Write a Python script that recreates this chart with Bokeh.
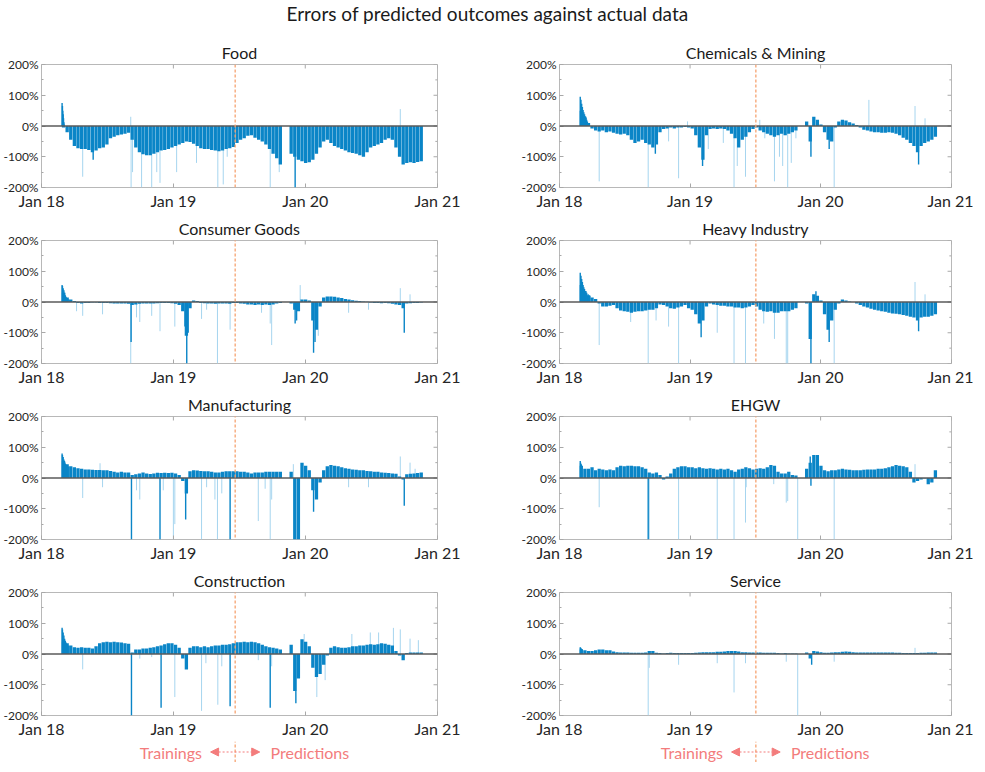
from bokeh.plotting import figure
from bokeh.layouts import gridplot, column
from bokeh.models import Range1d, FixedTicker, LinearAxis, Span, Arrow, NormalHead, Label
from bokeh.embed import file_html
from bokeh.resources import INLINE

# ---------------- data (days counted from 1 Jan 2018) ----------------
BIN_DAY = list(range(61, 1056, 10))          # centre of each 10-day bin
X_TICKS = [0, 365, 730, 1096]
X_LABELS = ["Jan 18", "Jan 19", "Jan 20", "Jan 21"]
Y_TICKS = [-200, -100, 0, 100, 200]
Y_MINOR = [-150, -50, 50, 150]
Y_LABELS = ["-200%", "-100%", "0%", "100%", "200%"]
SPLIT_DAY = [536, 549]                       # training / prediction boundary (left, right column)

N = None
food_err = [-5, -20, -45, -65, -72, -75, -75, -78, -85, -80,
            -72, -70, -60, -40, -35, -30, -28, -25, -22, -45,
            -70, -85, -92, -95, -95, -90, -85, -80, -78, -75,
            -70, -65, -60, -55, -50, -52, -58, -65, -72, -75,
            -75, -78, -80, -82, -80, -75, -72, -68, -55, -45,
            -40, -32, -30, -38, -45, -50, -60, -75, -90, -105,
            -125, N, N, -90, -100, -110, -115, -120, -118, -110,
            -90, -70, -50, -45, -55, -65, -70, -75, -80, -85,
            -88, -90, -95, -100, -85, -70, -65, -60, -55, -45,
            -40, -45, -70, -100, -125, -120, -118, -120, -117, -115]
food_dark_day = [57, 58, 59, 60, 61, 62, 63, 143, 702]
food_dark_val = [75, 65, 50, 38, 25, 12, 5, -110, -200]
food_light_day = [114, 247, 248, 252, 277, 305, 319, 328, 374, 429, 488, 503, 514, 633, 658, 993]
food_light_val = [-165, 30, -200, -150, -200, -200, -150, -185, -150, -120, -200, -190, -100, -200, -150, 55]

chem_err = [50, 30, 10, -8, -15, -18, -15, -20, -18, -22,
            -25, -28, -25, -30, -45, -55, -50, -45, -55, -60,
            -70, -60, -20, -10, -8, -5, -8, -5, -5, -3,
            -5, -8, -30, -70, -110, -30, -10, -8, -10, -8,
            -10, -15, -25, -40, -70, -45, -35, -20, -10, -5,
            -15, -20, -25, -30, -35, -30, -25, -30, -25, -20,
            -15, N, N, 15, -50, 30, 20, 5, -20, -45,
            -50, -5, 15, 20, 18, 12, 8, 3, -5, -12,
            -15, -18, -20, -20, -22, -22, -20, -22, -25, -30,
            -38, -45, -55, -65, -85, -65, -55, -50, -45, -35]
chem_dark_day = [58, 60, 62, 64, 66, 68, 70, 72, 74, 76, 78, 80, 268, 400, 703, 754, 1004]
chem_dark_val = [95, 85, 72, 62, 52, 45, 38, 32, 26, 20, 15, 10, -90, -130, -100, -75, -125]
chem_light_day = [111, 248, 305, 333, 358, 416, 458, 488, 497, 520, 560, 574, 601, 615, 624,
                  638, 648, 661, 768, 865, 994, 1022]
chem_light_val = [-180, -200, -50, -170, 15, -75, -55, -200, -130, -165, 20, -40, -180, -100, -130,
                  -200, -120, -40, -200, 85, 65, 25]

cons_err = [30, 15, 8, 3, -3, -5, -3, -3, -2, -2,
            -3, -3, -3, -4, -5, -5, -5, -5, -6, -10,
            -8, -6, -5, -5, -5, -5, -4, -3, -3, -3,
            -4, -6, -10, -30, -110, -20, 5, 3, -3, -4,
            -5, -5, -6, -5, -5, -5, -6, -3, -3, -5,
            -6, -8, -8, -10, -8, -10, -8, -10, -8, -5,
            -3, N, N, -5, -25, -30, 8, 8, 5, -60,
            -90, -15, 15, 18, 18, 17, 15, 13, 10, 8,
            6, 4, 3, 2, 1, -2, -3, -3, -4, -3,
            -4, -6, -8, -10, -20, -5, -4, -3, -3, -2]
cons_dark_day = [57, 58, 60, 62, 64, 66, 68, 70, 73, 76, 248, 397, 402, 406, 702, 706, 753, 757, 1004]
cons_dark_val = [55, 52, 45, 38, 30, 22, 17, 13, 10, 7, -130, -80, -200, -100, -70, -60, -165, -130, -100]
cons_light_day = [97, 114, 169, 247, 263, 272, 305, 328, 369, 443, 457, 487, 522, 609, 633, 637,
                  716, 766, 850, 905, 993, 1020]
cons_light_val = [-30, -45, -40, -200, -50, -65, -45, -95, -80, -55, -25, -200, -90, -35, -70, -140,
                  55, -110, -35, -25, 45, 25]

heavy_err = [55, 35, 22, 15, 10, -5, -15, -15, -12, -10,
             -20, -28, -30, -32, -35, -32, -30, -30, -28, -25,
             -25, -20, -8, -10, -15, -20, -22, -18, -15, -10,
             -20, -25, -40, -70, -60, -15, -5, -8, -10, -12,
             -12, -15, -15, -18, -18, -20, -18, -15, -10, -15,
             -25, -30, -32, -30, -35, -35, -30, -30, -30, -25,
             -20, N, N, -5, -120, 25, 20, 5, -40, -90,
             -60, -25, -5, 8, 5, 2, 0, -5, -10, -15,
             -18, -22, -25, -28, -30, -32, -35, -37, -38, -40,
             -42, -45, -48, -50, -60, -50, -48, -48, -45, -40]
heavy_dark_day = [58, 60, 62, 64, 66, 68, 70, 73, 76, 80, 85, 396, 703, 717, 754, 1004]
heavy_dark_val = [95, 85, 75, 65, 55, 48, 42, 36, 30, 25, 20, -115, -200, 35, -130, -95]
heavy_light_day = [111, 199, 248, 270, 305, 333, 441, 488, 520, 571, 601, 634, 638, 768, 994, 1022]
heavy_light_val = [-140, -65, -200, -60, -80, -200, -100, -200, -200, -70, -120, -200, -200, -200, 65, 25]

manu_err = [55, 45, 38, 35, 32, 30, 28, 28, 27, 26,
            26, 25, 25, 23, 20, 18, 20, 18, 18, 10,
            12, 15, 18, 15, 13, 15, 17, 16, 17, 16,
            17, 15, 10, -10, -50, 22, 25, 24, 23, 22,
            22, 20, 18, 18, 20, 22, 22, 22, 22, 20,
            20, 18, 15, 18, 18, 18, 20, 20, 20, 20,
            20, N, N, 20, -200, -200, 50, 40, 25, -40,
            -70, -15, 25, 38, 42, 40, 38, 35, 32, 30,
            28, 27, 25, 25, 23, 22, 20, 20, 18, 17,
            16, 15, 14, 5, -5, 12, 14, 15, 16, 18]
manu_dark_day = [57, 58, 60, 62, 64, 66, 68, 71, 74, 249, 328, 399, 522, 753, 1004]
manu_dark_val = [80, 75, 68, 60, 52, 47, 43, 40, 37, -200, -200, -135, -200, -110, -90]
manu_light_day = [114, 162, 169, 263, 272, 337, 365, 369, 443, 457, 480, 487, 499, 600, 619, 633,
                  637, 697, 850, 905, 993, 1020, 1034]
manu_light_val = [-65, 48, -30, -40, -70, -40, -200, -150, -200, -30, -70, -200, -50, -140, -35, -200,
                  -70, 45, -30, -30, 70, 50, 30]

ehgw_err = [40, 30, 30, 35, 25, 30, 28, 25, 28, 25,
            35, 40, 38, 40, 40, 38, 38, 35, 30, 18,
            15, 18, 10, -5, 5, 15, 30, 35, 38, 38,
            35, 35, 32, 35, 32, 30, 32, 30, 28, 30,
            28, 30, 25, 20, 28, 30, 35, 32, 28, 30,
            32, 30, 35, 42, 40, 20, 15, 15, 20, 10,
            8, N, N, 30, 50, 75, 75, 40, 25, 22,
            25, 25, 28, 30, 28, 27, 25, 25, 25, 27,
            28, 28, 28, 30, 30, 32, 35, 38, 42, 40,
            38, 35, 20, -15, -10, -5, -2, -20, -15, 25]
ehgw_dark_day = [58, 59, 61, 248, 701, 703]
ehgw_dark_val = [55, 50, 45, -200, 70, -25]
ehgw_light_day = [111, 251, 333, 441, 488, 520, 522, 599, 634, 638, 666, 768, 994]
ehgw_light_val = [-95, -200, -200, -200, -200, -145, -30, -20, -80, -75, -200, -200, 45]

cstr_err = [40, 35, 28, 22, 20, 22, 20, 20, 18, 25,
            35, 38, 40, 38, 40, 38, 37, 35, 33, 5,
            15, 15, 18, 18, 20, 22, 25, 28, 32, 35,
            35, 30, 20, -15, -50, 20, 25, 25, 22, 25,
            22, 25, 28, 28, 30, 30, 32, 35, 38, 38,
            40, 38, 40, 38, 35, 30, 25, 22, 20, 18,
            15, N, N, 30, -120, -80, 48, 40, 25, -45,
            -75, -65, -35, -5, 20, 25, 22, 20, 20, 22,
            25, 25, 28, 28, 30, 32, 30, 32, 35, 33,
            30, 28, 10, -5, -20, 3, 5, 5, 5, 5]
cstr_dark_day = [57, 58, 60, 62, 64, 66, 68, 71, 74, 249, 331, 522, 633, 704]
cstr_dark_val = [85, 80, 70, 60, 50, 43, 37, 32, 28, -200, -175, -170, -175, -160]
cstr_light_day = [114, 272, 305, 369, 443, 455, 488, 499, 600, 637, 727, 762, 785, 859, 910, 933,
                  974, 993, 1020, 1043]
cstr_light_val = [-50, -15, -10, -140, -185, -30, -165, -40, -20, -40, 65, -140, -85, 65, 70, 70,
                  85, 80, 50, 45]

serv_err = [15, 12, 10, 10, 12, 15, 15, 12, 12, 8,
            6, 5, 5, 5, 4, 4, 4, 4, 5, 10,
            10, 4, 3, 2, 3, 4, 3, 3, 3, 3,
            3, 3, 4, 5, 6, 6, 6, 6, 7, 7,
            8, 10, 10, 10, 8, 6, 6, 5, 5, 5,
            5, 4, 4, 4, 4, 3, 2, 3, 2, 2,
            2, N, N, 5, -15, 10, 8, 6, 4, 4,
            5, 6, 6, 7, 8, 7, 6, 5, 5, 5,
            5, 5, 5, 5, 5, 5, 5, 5, 4, 4,
            3, 3, 3, 3, 3, 4, 4, 5, 5, 5]
serv_dark_day = [58, 59, 61, 63, 705]
serv_dark_val = [22, 20, 18, 16, -35]
serv_light_day = [248, 251, 333, 441, 488, 520, 634, 666, 768, 994]
serv_light_val = [-200, -45, -35, -30, -125, -30, -25, -200, -25, 20]

LEFT = [("Food", food_err, food_dark_day, food_dark_val, food_light_day, food_light_val),
        ("Consumer Goods", cons_err, cons_dark_day, cons_dark_val, cons_light_day, cons_light_val),
        ("Manufacturing", manu_err, manu_dark_day, manu_dark_val, manu_light_day, manu_light_val),
        ("Construction", cstr_err, cstr_dark_day, cstr_dark_val, cstr_light_day, cstr_light_val)]
RIGHT = [("Chemicals & Mining", chem_err, chem_dark_day, chem_dark_val, chem_light_day, chem_light_val),
         ("Heavy Industry", heavy_err, heavy_dark_day, heavy_dark_val, heavy_light_day, heavy_light_val),
         ("EHGW", ehgw_err, ehgw_dark_day, ehgw_dark_val, ehgw_light_day, ehgw_light_val),
         ("Service", serv_err, serv_dark_day, serv_dark_val, serv_light_day, serv_light_val)]

# ---------------- style ----------------
FONT = "Lato"
MAIN = "#0a85c7"
LIGHT = "#a6d5ef"
SPLIT = "#f6a26f"
CORAL = "#f37c7c"
GREY = "#a8a8a8"
FRAME_W = [396, 392]
BORDER_L = [37, 46]
BORDER_R = [76, 22]


def style_axis(ax, size, standoff):
    ax.axis_line_color = None
    ax.major_tick_in = 4
    ax.major_tick_out = 0
    ax.minor_tick_in = 2
    ax.minor_tick_out = 0
    ax.major_tick_line_color = GREY
    ax.minor_tick_line_color = GREY
    ax.major_label_text_font = FONT
    ax.major_label_text_font_size = size
    ax.major_label_text_color = "#262626"
    ax.major_label_standoff = standoff


def panel(spec, col, row):
    title, vals, dday, dval, lday, lval = spec
    p = figure(frame_width=FRAME_W[col], frame_height=123,
               x_range=Range1d(0, 1096), y_range=Range1d(-200, 200),
               x_axis_type=None, y_axis_type=None,
               output_backend="svg", toolbar_location=None,
               min_border_left=BORDER_L[col], min_border_right=BORDER_R[col],
               min_border_top=26, min_border_bottom=26,
               outline_line_color="#b8b8b8", outline_line_width=1)
    p.title.text = title
    p.title.align = "center"
    p.title.text_font = FONT
    p.title.text_font_size = "16px"
    p.title.text_font_style = "normal"
    p.title.text_color = "#1a1a1a"
    p.title.standoff = 6

    yt = FixedTicker(ticks=Y_TICKS, minor_ticks=Y_MINOR)
    xt = FixedTicker(ticks=X_TICKS, minor_ticks=[])
    ly = LinearAxis(ticker=yt, major_label_overrides=dict(zip(Y_TICKS, Y_LABELS)))
    style_axis(ly, "12px", 3)
    bx = LinearAxis(ticker=xt, major_label_overrides=dict(zip(X_TICKS, X_LABELS)))
    style_axis(bx, "16px", 3)
    p.add_layout(ly, "left")
    p.add_layout(bx, "below")

    # inner tick marks on the right and top edges of the box
    p.segment(x0=[1085] * len(Y_TICKS), y0=Y_TICKS, x1=[1096] * len(Y_TICKS), y1=Y_TICKS,
              line_color=GREY, line_width=1)
    p.segment(x0=[1090] * len(Y_MINOR), y0=Y_MINOR, x1=[1096] * len(Y_MINOR), y1=Y_MINOR,
              line_color=GREY, line_width=1)
    p.segment(x0=X_TICKS, y0=[187] * len(X_TICKS), x1=X_TICKS, y1=[200] * len(X_TICKS),
              line_color=GREY, line_width=1)

    p.segment(x0=lday, y0=0, x1=lday, y1=lval, line_color=LIGHT, line_width=1)
    xs = [d for d, v in zip(BIN_DAY, vals) if v is not None]
    ys = [v for v in vals if v is not None]
    p.vbar(x=xs, top=ys, bottom=0, width=9.2, fill_color=MAIN, line_color=None)
    p.segment(x0=dday, y0=0, x1=dday, y1=dval, line_color=MAIN, line_width=1.4)

    p.add_layout(Span(location=0, dimension="width", line_color="#5a5a5a", line_width=1.3))

    s = SPLIT_DAY[col]
    y_top = 200 if row == 0 else 320
    p.add_layout(Arrow(x_start=s, y_start=y_top, x_end=s, y_end=-330, start=None, end=None,
                       line_color=SPLIT, line_width=1.3, line_dash="3 2"))
    return p


def note(col):
    p = figure(frame_width=FRAME_W[col], frame_height=21,
               x_range=Range1d(0, 1096), y_range=Range1d(0, 1),
               x_axis_type=None, y_axis_type=None, title=None,
               output_backend="svg", toolbar_location=None,
               min_border_left=BORDER_L[col], min_border_right=BORDER_R[col],
               min_border_top=0, min_border_bottom=0, outline_line_color=None)
    s = SPLIT_DAY[col]
    p.segment(x0=[s], y0=[0], x1=[s], y1=[1], line_color=SPLIT, line_width=1.3, line_dash="3 2")
    ya = 0.5
    p.add_layout(Arrow(x_start=s - 68, y_start=ya, x_end=s + 68, y_end=ya,
                       start=NormalHead(size=8, fill_color=CORAL, line_color=CORAL),
                       end=NormalHead(size=8, fill_color=CORAL, line_color=CORAL),
                       line_color=CORAL, line_width=1.2, line_dash="2 2"))
    p.add_layout(Label(x=s - 92, y=ya, text="Trainings", text_align="right",
                       text_baseline="middle", text_font=FONT, text_font_size="16px",
                       text_color=CORAL))
    p.add_layout(Label(x=s + 98, y=ya, text="Predictions", text_align="left",
                       text_baseline="middle", text_font=FONT, text_font_size="16px",
                       text_color=CORAL))
    return p


rows = [[panel(LEFT[r], 0, r), panel(RIGHT[r], 1, r)] for r in range(4)]
rows.append([note(0), note(1)])
grid = gridplot(rows, toolbar_location=None)

tp = figure(width=969, height=37, x_range=Range1d(0, 1), y_range=Range1d(0, 1),
            x_axis_type=None, y_axis_type=None, title=None, output_backend="svg",
            toolbar_location=None, min_border=0, outline_line_color=None)
tp.add_layout(Label(x=487, y=24, x_units="screen", y_units="screen",
                    text="Errors of predicted outcomes against actual data",
                    text_align="center", text_baseline="middle", text_font=FONT,
                    text_font_size="19px", text_color="#1a1a1a"))

layout = column(tp, grid)
open("out.html", "w").write(file_html(layout, INLINE, title="Errors of predicted outcomes"))
